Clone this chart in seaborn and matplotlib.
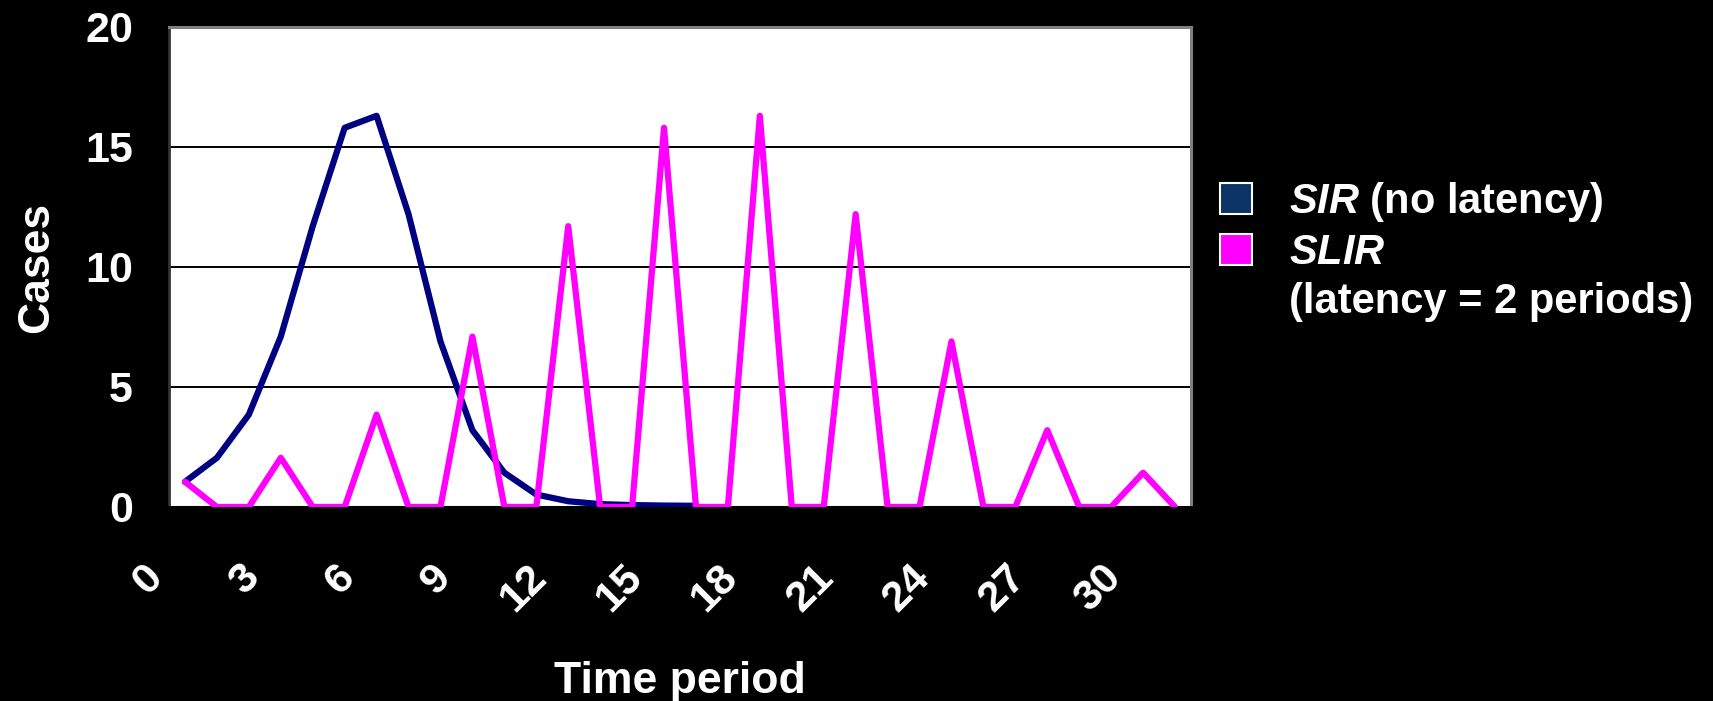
import numpy as np
import pandas as pd
import matplotlib
matplotlib.use("Agg")
import matplotlib.pyplot as plt
import matplotlib.transforms as mtransforms
from matplotlib.patches import Patch
import seaborn as sns

# Epidemic curves: cases per time period
sir_periods = list(range(17))
sir_cases = [1.05, 2.05, 3.85, 7.1, 11.7, 15.8, 16.3, 12.2, 6.9, 3.2, 1.43,
             0.52, 0.24, 0.12, 0.08, 0.06, 0.05]

slir_periods = list(range(32))
slir_cases = [1.05, 0, 0, 2.05, 0, 0, 3.85, 0, 0, 7.1, 0, 0, 11.7, 0, 0, 15.8,
              0, 0, 16.3, 0, 0, 12.2, 0, 0, 6.9, 0, 0, 3.2, 0, 0, 1.43, 0]

series_names = ["SIR", "SLIR"]
legend_labels = [r"$\mathit{SIR}$ (no latency)", r"$\mathit{SLIR}$",
                 "(latency = 2 periods)"]
x_ticks = list(range(0, 31, 3))
y_ticks = [0, 5, 10, 15, 20]

line_colors = {"SIR": "#000080", "SLIR": "#FF00FF"}
legend_colors = ["#0B3366", "#FF00FF"]

df = pd.concat([
    pd.DataFrame({"period": sir_periods, "cases": sir_cases, "model": "SIR"}),
    pd.DataFrame({"period": slir_periods, "cases": slir_cases, "model": "SLIR"}),
], ignore_index=True)

sns.set_theme(style="white")
plt.rcParams["font.family"] = ["Liberation Sans", "DejaVu Sans"]
plt.rcParams["font.weight"] = "bold"
plt.rcParams["mathtext.fontset"] = "custom"
plt.rcParams["mathtext.it"] = "Liberation Sans:italic:bold"
plt.rcParams["mathtext.rm"] = "Liberation Sans:bold"
plt.rcParams["lines.linewidth"] = 4.5

W, H = 1713, 701
fig = plt.figure(figsize=(W / 100, H / 100), dpi=100, facecolor="black")
ax = fig.add_axes([169 / W, 1 - 507 / H, (1191 - 169) / W, (507 - 27) / H])
ax.set_facecolor("white")

sns.lineplot(data=df, x="period", y="cases", hue="model", palette=line_colors,
             hue_order=series_names, ax=ax, legend=False, linewidth=4.5)
for ln in ax.lines:
    ln.set_linewidth(4.5)
    ln.set_solid_joinstyle("round")
    ln.set_solid_capstyle("round")
    ln.set_zorder(3)

ax.set_xlim(-0.5, 31.5)
ax.set_ylim(0, 20)

# horizontal gridlines
for yv in y_ticks[1:-1]:
    ax.axhline(yv, color="black", linewidth=1.4, zorder=0.5)

ax.set_yticks(y_ticks)
ax.set_yticklabels([str(v) for v in y_ticks], fontsize=31, fontweight="bold",
                   color="white")
ax.tick_params(axis="y", length=0, pad=26)

ax.set_xticks(x_ticks)
ax.set_xticklabels([str(v) for v in x_ticks], fontsize=31, fontweight="bold",
                   color="white", rotation=45, ha="right", va="top")
ax.tick_params(axis="x", length=0, pad=36)
shift = mtransforms.ScaledTranslation(-14 / 100, 0, fig.dpi_scale_trans)
for lbl in ax.get_xticklabels():
    lbl.set_transform(lbl.get_transform() + shift)

# small marks at category boundaries
ax.set_xticks(np.arange(-0.5, 32, 1), minor=True)
ax.tick_params(axis="x", which="minor", length=3, width=1, color="#404040",
               direction="out")

for side, col, lw in [("top", "#808080", 2.2), ("right", "#808080", 2.2),
                      ("left", "#333333", 2.0), ("bottom", "black", 2.2)]:
    ax.spines[side].set_visible(True)
    ax.spines[side].set_color(col)
    ax.spines[side].set_linewidth(lw)

ax.set_ylabel("Cases", fontsize=32, fontweight="bold", color="white",
              labelpad=20)
ax.set_xlabel("Time period", fontsize=32, fontweight="bold", color="white")
ax.xaxis.set_label_coords(0.5, -(693 - 507) / (507 - 27), transform=ax.transAxes)
ax.xaxis.label.set_va("baseline")

handles = [Patch(facecolor=c, edgecolor="white", linewidth=1.5)
           for c in legend_colors]
handles.append(Patch(facecolor="none", edgecolor="none"))
leg = fig.legend(handles, legend_labels, loc="upper left",
                 bbox_to_anchor=(1220 / W, 1 - 180 / H),
                 bbox_transform=fig.transFigure, frameon=False,
                 prop={"family": "Liberation Sans", "weight": "bold",
                       "size": 30},
                 labelcolor="white", handlelength=0.77, handleheight=0.77,
                 handletextpad=0.89, labelspacing=0.22, borderpad=0,
                 borderaxespad=0)

fig.savefig("out.png", dpi=100, facecolor="black")
